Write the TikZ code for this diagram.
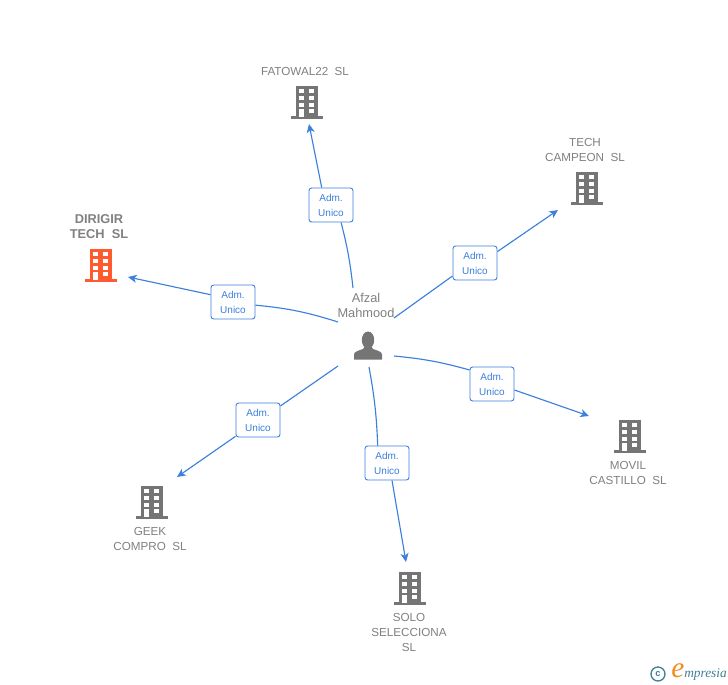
\documentclass[tikz,border=0pt]{standalone}
\usepackage{fontspec}
\usetikzlibrary{arrows.meta}
\setmainfont{Liberation Sans}
\newfontfamily\logofont{Liberation Serif}
\definecolor{linkblue}{HTML}{3C7FDD}
\definecolor{iconGray}{HTML}{757575}
\definecolor{textGray}{HTML}{808080}
\definecolor{iconRed}{HTML}{FF5A30}
\definecolor{logoTeal}{HTML}{3F7F95}
\definecolor{logoOrange}{HTML}{F28A1E}
\tikzset{
  link/.style={linkblue, line width=.85pt},
  adm/.style={draw=linkblue, fill=white, rounded corners=2pt, line width=.7pt, minimum width=33pt, minimum height=25.5pt, inner sep=0pt, align=center, font=\fontsize{7.5}{11.2}\selectfont, text=linkblue},
  lbl/.style={align=center, text=textGray, font=\fontsize{8.75}{11.2}\selectfont},
  icon/.style={minimum width=24pt, minimum height=25pt, inner sep=0pt},
}
\newcommand{\bldg}[2]{
  \fill[#2] (#1) ++(-11,-16) rectangle ++(22,31);
  \fill[#2] (#1) ++(-16,14) rectangle ++(32,3);
  \foreach \wy in {-13,-6,1,7}
  {
    \fill[white] (#1) ++(-7.7,\wy) rectangle ++(5,4);
    \fill[white] (#1) ++(2.3,\wy) rectangle ++(5,4);
  }
  \fill[white] (#1) ++(-7.7,7) rectangle ++(5,8);
}
\begin{document}
\begin{tikzpicture}[>={Stealth[length=6.5pt,width=6pt,inset=1.8pt]}, x=.75pt, y=-.75pt]
\useasboundingbox (0,0) rectangle (728,685);

\foreach \id/\x/\y/\col in {fatowal/307/102/iconGray,campeon/587/188/iconGray,dirigir/101/265/iconRed,movil/630/436/iconGray,geek/152/502/iconGray,solo/410/588/iconGray}
{
    \node[icon] (\id) at (\x,\y) {};
    \bldg{\id}{\col}
}
\node[lbl] (fatowalName) at (305,71.5) {FATOWAL22\ \ SL};
\node[lbl] (campeonName) at (585,150) {TECH\\CAMPEON\ \ SL};
\node[lbl, font=\fontsize{9.6}{11.2}\selectfont\bfseries] (dirigirName) at (99,226.5) {DIRIGIR\\TECH\ \ SL};
\node[lbl] (movilName) at (628,473) {MOVIL\\CASTILLO\ \ SL};
\node[lbl] (geekName) at (150,539) {GEEK\\COMPRO\ \ SL};
\node[lbl] (soloName) at (409,632.5) {SOLO\\SELECCIONA\\SL};

% person
\node[icon] (afzal) at (368,346) {};
\fill[iconGray, shift={(afzal)}] (0,-6) ellipse (6.2 and 8.5);
\fill[iconGray, shift={(afzal)}] (-14,13.5) -- (-14,8.5) .. controls (-14,5.5) and (-9,4.5) .. (-5,3) -- (-3,0) -- (3,0) -- (5,3) .. controls (9,4.5) and (14,5.5) .. (14,8.5) -- (14,13.5) -- cycle;
\node[lbl, font=\fontsize{9.6}{11.4}\selectfont] (afzalName) at (366,305.5) {Afzal\\Mahmood};

\foreach \id/\bx/\by/\sx/\sy/\tx/\ty/\ang/\ain/\aout in {%
  fatowal/331/205/353/288/309/124/-4/300/118,%
  campeon/475/263/394/318/558/210/0/210/27,%
  dirigir/233/302/338/322/128/277/-6/352/162,%
  movil/492/384/394/356/589/416/5/148/345,%
  geek/258/420/338/366/177/477/0/32/216,%
  solo/387/463/369/367/406/562/4/118/286}
{
    \node[adm] (\id Adm) at (\bx,\by) {Adm.\\Unico};
    \coordinate (\id Start) at (\sx,\sy);
    \coordinate (\id Tip) at (\tx,\ty);
    \draw[link] (\id Start) to[bend left=\ang] (\id Adm.\ain);
    \draw[link,->] (\id Adm.\aout) -- (\id Tip);
}

% logo
\node[circle, draw=logoTeal, line width=1pt, minimum size=10.5pt, inner sep=0pt, text=logoTeal, font=\fontsize{7}{7}\selectfont\bfseries] (logoC) at (658,674) {c};
\node[text=logoOrange, inner sep=0pt, font=\logofont\fontsize{22}{22}\selectfont\itshape] (logoE) at (678,671) {e};
\node[text=logoTeal, inner sep=0pt, anchor=base west, font=\logofont\fontsize{10}{10}\selectfont\itshape] (logoText) at (684,677) {mpresia};
\end{tikzpicture}
\end{document}
